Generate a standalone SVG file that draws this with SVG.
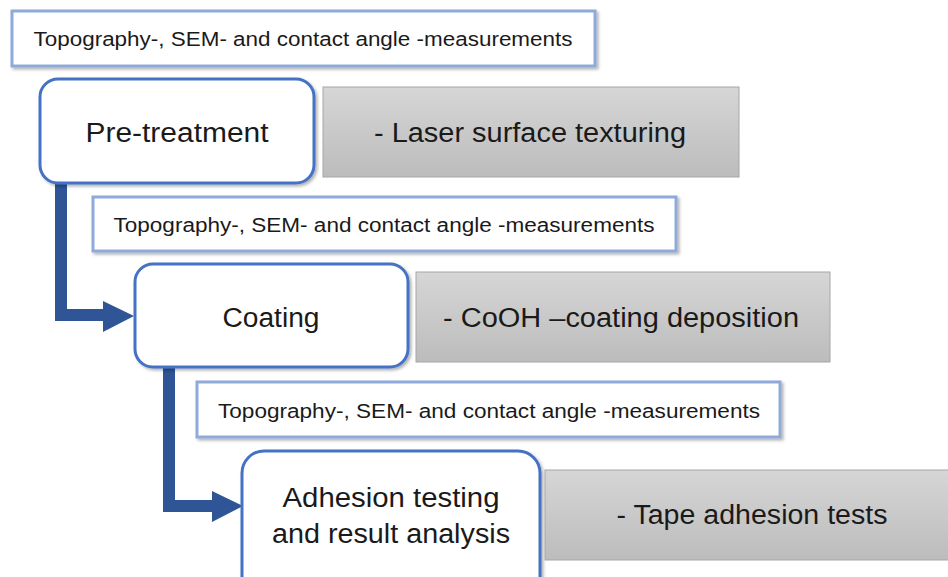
<svg xmlns="http://www.w3.org/2000/svg" width="948" height="577" viewBox="0 0 948 577">
<defs>
<linearGradient id="gray" x1="0" y1="0" x2="0" y2="1">
<stop offset="0" stop-color="#d6d6d6"/>
<stop offset="1" stop-color="#bcbcbc"/>
</linearGradient>
<filter id="sh" x="-10%" y="-10%" width="120%" height="130%">
<feDropShadow dx="2" dy="2" stdDeviation="1.5" flood-color="#000" flood-opacity="0.3"/>
</filter>
<style>
.meas{fill:#fff;stroke:#8eaadb;stroke-width:3;filter:url(#sh)}
.step{fill:#fff;stroke:#4472c4;stroke-width:3;filter:url(#sh)}
.gray{fill:url(#gray);stroke:#a6a6a6;stroke-width:1}
text{font-family:"Liberation Sans",Arial,sans-serif;fill:#1a1a1a;text-anchor:middle}
.mt{font-size:20px}
.st{font-size:27px}
.gt{font-size:27px}
.conn{fill:none;stroke:#2f5597;stroke-width:12;stroke-linejoin:miter}
.head{fill:#2f5597}
</style>
</defs>
<rect width="948" height="577" fill="#fff"/>

<g id="connectors">
<path class="conn" d="M61,183 V315 H104"/>
<polygon class="head" points="103,301 134,316 103,332"/>
<path class="conn" d="M169,367 V506 H213"/>
<polygon class="head" points="212,491 243,506 212,522"/>
</g>

<g id="meas1">
<rect class="meas" x="12" y="11" width="583" height="55"/>
<text class="mt" x="303" y="46" textLength="539" lengthAdjust="spacingAndGlyphs">Topography-, SEM- and contact angle -measurements</text>
</g>
<g id="pretreatment">
<rect class="step" x="40" y="79" width="274" height="104" rx="18"/>
<text class="st" x="177" y="142" textLength="183" lengthAdjust="spacingAndGlyphs">Pre-treatment</text>
</g>
<g id="laser">
<rect class="gray" x="323" y="87" width="416" height="90"/>
<text class="gt" x="530" y="142" textLength="312" lengthAdjust="spacingAndGlyphs">- Laser surface texturing</text>
</g>

<g id="meas2">
<rect class="meas" x="93" y="197" width="583" height="54"/>
<text class="mt" x="384" y="232" textLength="541" lengthAdjust="spacingAndGlyphs">Topography-, SEM- and contact angle -measurements</text>
</g>
<g id="coating">
<rect class="step" x="135" y="264" width="273" height="103" rx="18"/>
<text class="st" x="271" y="327" textLength="97" lengthAdjust="spacingAndGlyphs">Coating</text>
</g>
<g id="cooh">
<rect class="gray" x="416" y="272" width="414" height="90"/>
<text class="gt" x="621" y="327" textLength="356" lengthAdjust="spacingAndGlyphs">- CoOH –coating deposition</text>
</g>

<g id="meas3">
<rect class="meas" x="197" y="382" width="583" height="55"/>
<text class="mt" x="489" y="418" textLength="542" lengthAdjust="spacingAndGlyphs">Topography-, SEM- and contact angle -measurements</text>
</g>
<g id="adhesion">
<rect class="step" x="242" y="451" width="298" height="150" rx="22"/>
<text class="st" x="391" y="507" textLength="217" lengthAdjust="spacingAndGlyphs">Adhesion testing</text>
<text class="st" x="391" y="543" textLength="238" lengthAdjust="spacingAndGlyphs">and result analysis</text>
</g>
<g id="tape">
<rect class="gray" x="545" y="470" width="410" height="90"/>
<text class="gt" x="752" y="524" textLength="271" lengthAdjust="spacingAndGlyphs">- Tape adhesion tests</text>
</g>
</svg>
